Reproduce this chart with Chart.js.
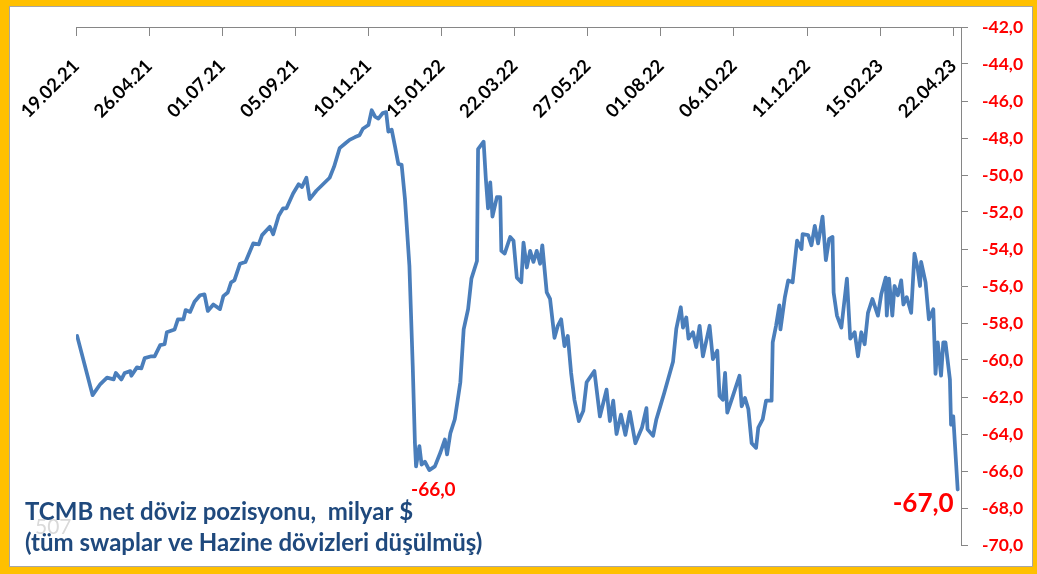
<!DOCTYPE html>
<html><head><meta charset="utf-8">
<script src="https://cdn.jsdelivr.net/npm/chart.js@4.4.1/dist/chart.umd.min.js"></script>
<style>html,body{margin:0;padding:0;background:#FFC000;overflow:hidden}canvas{display:block}</style>
</head><body>
<canvas id="c" width="1037" height="574"></canvas>
<script>
// ---- data ----
const tickLabels = ['19.02.21','26.04.21','01.07.21','05.09.21','10.11.21','15.01.22','22.03.22','27.05.22','01.08.22','06.10.22','11.12.22','15.02.23','22.04.23'];
// days since 19.02.21
const dayOffsets = [1,15,22,28,34,36,41,44,49,50,55,59,62,68,71,76,80,82,89,92,97,99,103,107,112,116,119,124,130,133,137,140,143,148,153,160,165,168,175,178,183,187,190,196,201,204,208,211,217,223,229,233,238,243,247,252,256,259,264,267,270,273,277,280,282,285,288,291,294,297,
301,304,306,307,310,312,315,319,324,329,333,335,338,342,347,350,354,357,362,363,368,370,372,374,376,380,383,384,387,392,395,398,402,404,407,410,413,416,419,421,425,428,432,435,438,441,444,447,450,454,458,461,468,473,479,482,485,488,492,496,500,505,511,515,516,521,524,
527,531,539,542,546,548,551,553,557,560,563,566,572,575,579,581,584,586,588,593,599,601,604,607,610,614,616,620,623,628,629,632,635,636,640,643,647,651,655,656,661,664,667,670,674,677,680,683,684,687,691,696,699,703,706,709,712,715,719,724,727,731,732,734,737,739,742,745,747,750,754,757,760,762,763,767,770,774,776,778,781,783,785,789,790,792,796];
// TCMB net FX position, billion $
const netPosition = [-58.7,-61.9,-61.3,-60.95,-61.05,-60.7,-61.05,-60.7,-60.6,-60.85,-60.4,-60.45,-59.9,-59.8,-59.8,-59.2,-59.15,-58.5,-58.35,-57.8,-57.8,-57.3,-57.4,-56.85,-56.5,-56.45,-57.35,-57.0,-57.25,-56.55,-56.35,-55.8,-55.7,-54.8,-54.7,-53.7,-53.75,-53.25,-52.8,-53.2,-52.2,-51.8,-51.8,-51.0,-50.5,-50.65,-50.15,-51.3,-50.85,-50.5,-50.15,-49.55,-48.55,-48.3,-48.1,-47.95,-47.85,-47.5,-47.3,-46.5,-46.85,-46.95,-46.65,-46.6,-47.65,-47.55,-48.45,-49.4,-49.45,-51.3,
-54.9,-60.3,-64.5,-65.75,-64.65,-65.65,-65.5,-65.95,-65.75,-65.0,-64.3,-65.1,-63.95,-63.2,-61.2,-58.35,-57.25,-55.6,-54.65,-48.6,-48.2,-50.2,-51.8,-50.4,-52.25,-51.2,-51.2,-54.1,-54.25,-53.35,-53.55,-55.55,-55.8,-53.65,-55.0,-54.1,-54.7,-54.1,-54.8,-53.8,-56.35,-56.7,-58.8,-58.15,-57.8,-59.25,-58.7,-60.7,-62.15,-63.3,-62.75,-61.2,-60.6,-63.05,-61.6,-63.3,-62.2,-64.0,-62.95,-64.05,-62.8,-64.5,-63.65,-62.6,-63.75,-64.1,-63.2,
-62.6,-61.8,-60.1,-58.3,-57.15,-58.25,-57.7,-58.85,-58.5,-59.3,-58.15,-59.8,-58.15,-59.95,-59.5,-61.95,-62.15,-60.7,-62.85,-61.95,-60.85,-62.5,-62.05,-62.65,-64.5,-64.75,-63.65,-63.2,-62.2,-62.2,-59.05,-58.15,-57.05,-58.35,-56.6,-55.7,-55.8,-53.55,-54.0,-53.2,-53.25,-53.8,-52.75,-53.7,-52.25,-54.6,-53.45,-53.35,-56.35,-57.6,-58.25,-55.6,-58.85,-58.5,-59.8,-58.5,-59.15,-57.45,-56.7,-57.6,-56.45,-55.55,-57.6,-55.6,-57.6,-56.0,-56.5,-55.7,-57.0,-56.6,-57.45,-54.25,-55.1,-56.0,-54.7,-55.8,-57.8,-57.25,-60.75,-59.05,-60.85,-59.05,-59.05,-61.05,-63.5,-63.05,-67.0];
const titleLines = ['TCMB net döviz pozisyonu,  milyar $', '(tüm swaplar ve Hazine dövizleri düşülmüş)'];
const watermark = '507';
const yMin = -70, yMax = -42, yStep = 2;

// ---- helpers ----
const parseD = s => { const [d, m, y] = s.split('.').map(Number); return Date.UTC(2000 + y, m - 1, d); };
const t0 = parseD(tickLabels[0]);
const tickDays = tickLabels.map(s => Math.round((parseD(s) - t0) / 86400000));
const points = dayOffsets.map((d, i) => ({ x: d, y: netPosition[i] }));
const fmt = v => v.toFixed(1).replace('.', ',');

let troughIdx = 0;
for (let i = 0; i < netPosition.length; i++) { if (dayOffsets[i] < 400 && netPosition[i] < netPosition[troughIdx]) troughIdx = i; }
const lastIdx = netPosition.length - 1;

const frame = {
  id: 'frame',
  beforeDraw(chart) {
    const c = chart.ctx;
    c.save();
    c.fillStyle = '#FFC000'; c.fillRect(0, 0, chart.width, chart.height);
    c.fillStyle = '#FFFFFF'; c.fillRect(9, 6, 1024, 561);
    c.strokeStyle = '#A6A6A6'; c.lineWidth = 1; c.strokeRect(9.5, 6.5, 1023, 560);
    c.restore();
  }
};

const texts = {
  id: 'texts',
  afterDraw(chart) {
    const c = chart.ctx, xs = chart.scales.x, ys = chart.scales.y;
    c.save();
    c.fillStyle = '#D9D9D9'; c.font = '21px Lato'; c.textBaseline = 'middle'; c.textAlign = 'left';
    c.fillText(watermark, 35, 527);
    c.fillStyle = '#1F497D'; c.font = 'bold 24px Lato';
    c.fillText(titleLines[0], 25, 512);
    c.fillText(titleLines[1], 25, 543);
    c.fillStyle = '#FF0000';
    c.font = 'bold 19px Lato'; c.textAlign = 'center';
    let px = xs.getPixelForValue(dayOffsets[troughIdx]), py = ys.getPixelForValue(netPosition[troughIdx]);
    c.fillText(fmt(netPosition[troughIdx]), px + 4, py + 20);
    c.font = 'bold 26px Lato'; c.textAlign = 'right';
    px = xs.getPixelForValue(dayOffsets[lastIdx]); py = ys.getPixelForValue(netPosition[lastIdx]);
    c.fillText(fmt(netPosition[lastIdx]), px - 4, py + 14);
    c.restore();
  }
};

new Chart(document.getElementById('c'), {
  type: 'line',
  data: { datasets: [{ data: points, borderColor: '#4A7EBB', borderWidth: 3.75, pointRadius: 0, tension: 0, borderJoinStyle: 'round', borderCapStyle: 'round', fill: false }] },
  options: {
    responsive: false, animation: false, devicePixelRatio: 1,
    layout: { padding: { left: 76, top: 27, right: 0, bottom: 29 } },
    plugins: { legend: { display: false }, tooltip: { enabled: false } },
    scales: {
      x: {
        type: 'linear', position: { y: yMax }, min: 0, max: 799,
        afterBuildTicks: a => { a.ticks = tickDays.map(v => ({ value: v })); },
        ticks: { autoSkip: false, minRotation: 45, maxRotation: 45, padding: 20, color: '#000000',
                 font: { family: 'Lato', weight: 'bold', size: 18.5 }, callback: (v, i) => tickLabels[i] },
        grid: { drawOnChartArea: false, drawTicks: true, tickLength: 8, color: '#868686', lineWidth: 1 },
        border: { display: true, color: '#868686', width: 1 }
      },
      y: {
        position: 'right', min: yMin, max: yMax,
        afterFit: s => { s.width = 76; },
        ticks: { stepSize: yStep, padding: 14, color: '#FF0000', font: { family: 'Lato', weight: 'bold', size: 17.5 }, callback: v => fmt(v) },
        grid: { drawOnChartArea: false, tickLength: 7, color: '#868686' },
        border: { color: '#868686', width: 1 }
      }
    }
  },
  plugins: [frame, texts]
});
</script>
</body></html>
